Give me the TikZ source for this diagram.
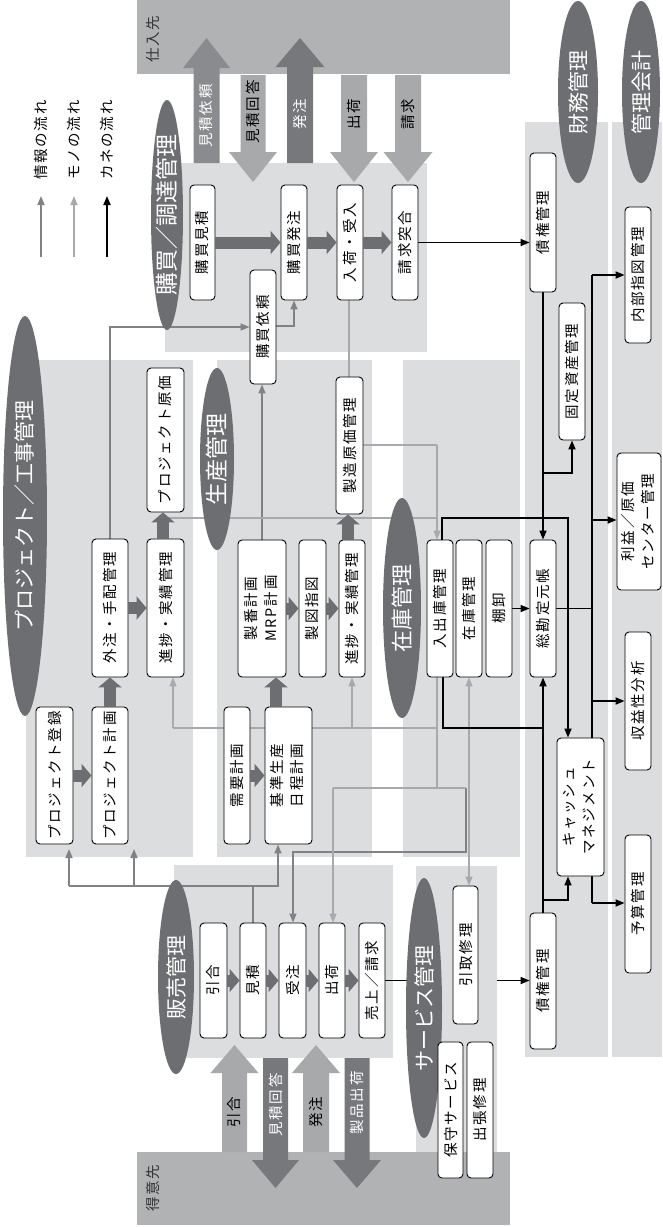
\documentclass[tikz,border=0pt]{standalone}
\usepackage{fontspec}
\usepackage{graphicx}
\setmainfont{Noto Sans CJK JP}
\newfontfamily\jpsp{Noto Sans CJK JP}[LetterSpace=12]
\usetikzlibrary{arrows.meta,shapes.geometric}
\definecolor{panel}{HTML}{DCDDDF}
\definecolor{bar}{HTML}{B1B2B4}
\definecolor{dark}{HTML}{6D6E71}
\definecolor{info}{HTML}{808285}
\definecolor{mono}{HTML}{A7A9AC}
\definecolor{bigdark}{HTML}{77787B}
\definecolor{bigmed}{HTML}{8A8B8E}
\definecolor{biglight}{HTML}{A8A9AB}
\pgfdeclarelayer{back}
\pgfdeclarelayer{ktwo}
\pgfdeclarelayer{svc}
\pgfdeclarelayer{big}
\pgfdeclarelayer{conn}
\pgfdeclarelayer{ellL}
\pgfdeclarelayer{front}
\pgfsetlayers{back,ktwo,svc,big,conn,ellL,main,front}
\newcommand{\rottext}[1]{\rotatebox{90}{#1}}
\newcommand{\rotlines}[1]{\rotatebox{90}{\begin{tabular}{@{}c@{}}#1\end{tabular}}}
\newcommand{\bx}[6]{\node[box, minimum width={(#4)-(#2)}, minimum height={(#5)-(#3)}] (#1) at ({((#2)+(#4))/2},{((#3)+(#5))/2}) {#6};}
\newcommand{\el}[7]{\node[ell, font=\fontsize{#7}{24}\selectfont, minimum width={2*(#4)}, minimum height={2*(#5)}] (#1) at (#2,#3) {\rottext{#6}};}
\newcommand{\bigarrow}[7]{\fill[#1] ({#2-#6},#3) -- ({#2-#6},#4) -- ({#2-#7},#4) -- (#2,#5) -- ({#2+#7},#4) -- ({#2+#6},#4) -- ({#2+#6},#3) -- cycle;}
\begin{document}
\begin{tikzpicture}[x=1pt,y=-1pt,
  box/.style={draw=black, line width=0.9pt, rounded corners=4pt, fill=white, inner sep=0pt, font=\jpsp\fontsize{14.5}{20}\selectfont},
  ell/.style={ellipse, fill=dark, inner sep=0pt, text=white},
  joho/.style={draw=info, line width=1.6pt},
  mono/.style={draw=mono, line width=1.6pt},
  kane/.style={draw=black, line width=1.7pt},
  tip/.style={-{Triangle[length=9pt,width=7pt]}},
  fat/.style={draw=dark, line width=12pt, -{Triangle[length=10pt,width=23pt]}},
  lbl/.style={inner sep=0pt, font=\jpsp\fontsize{14.5}{16}\selectfont},
]
\useasboundingbox (0,0) rectangle (662,1227);
\begin{pgfonlayer}{back}
\fill[white] (0,0) rectangle (662,1227);
\fill[bar] (137,0) rectangle (510,74);
\fill[bar] (137,1152) rectangle (510,1225);
\fill[panel] (165,163) rectangle (427,352);
\fill[panel] (26,360) rectangle (193,857);
\fill[panel] (217,360) rectangle (372,857);
\fill[panel] (403,360) rectangle (520,857);
\fill[panel] (174,865) rectangle (393,1058);
\fill[panel] (525,122) rectangle (608,1057);
\fill[panel] (612,122) rectangle (662,1057);
\end{pgfonlayer}
\begin{pgfonlayer}{svc}
\fill[panel] (416,866) rectangle (497,1152);
\end{pgfonlayer}
% ---------------- boxes
\bx{kobaimitsumori}{190}{185}{215}{300}{\rottext{購買見積}}
\bx{kobaihachu}{281}{185}{307}{300}{\rottext{購買発注}}
\bx{nyuka}{337}{185}{363}{300}{\rottext{入荷・受入}}
\bx{seikyu}{392}{185}{418}{300}{\rottext{請求突合}}
\bx{kobaiirai}{250}{270}{276}{384}{\rottext{購買依頼}}
\bx{pjgenka}{147}{368}{184}{512}{\rottext{プロジェクト原価}}
\bx{gaichu}{92}{539}{128}{677}{\rottext{外注・手配管理}}
\bx{pjshinchoku}{147}{539}{184}{677}{\rottext{進捗・実績管理}}
\bx{pjtoroku}{36}{707}{73}{844}{\rottext{プロジェクト登録}}
\bx{pjkeikaku}{92}{707}{128}{844}{\rottext{プロジェクト計画}}
\bx{seiban}{238}{540}{286}{677}{\rotlines{製番計画\\MRP計画}}
\bx{seizu}{299}{540}{326}{677}{\rottext{製図指図}}
\bx{mfgshinchoku}{339}{540}{365}{677}{\rottext{進捗・実績管理}}
\bx{seizogenka}{336}{377}{363}{514}{\rottext{製造原価管理}}
\bx{juyo}{224}{707}{250}{844}{\rottext{需要計画}}
\bx{kijun}{265}{707}{312}{844}{\rotlines{基準生産\\日程計画}}
\bx{nyushukko}{427}{540}{453}{677}{\rottext{入出庫管理}}
\bx{zaiko}{456}{540}{482}{677}{\rottext{在庫管理}}
\bx{tanaoroshi}{486}{540}{512}{677}{\rottext{棚卸}}
\bx{saimu}{530}{153}{556}{292}{\rottext{債権管理}}
\bx{kotei}{559}{303}{585}{440}{\rottext{固定資産管理}}
\bx{sokanjo}{530}{540}{556}{677}{\rottext{総勘定元帳}}
\bx{cash}{557}{738}{604}{876}{\rotlines{キャッシュ\\マネジメント}}
\bx{saiken}{530}{913}{556}{1049}{\rottext{債権管理}}
\bx{naibu}{625}{207}{651}{343}{\rottext{内部指図管理}}
\bx{rieki}{617}{453}{661}{590}{\rotlines{利益／原価\\センター管理}}
\bx{shueki}{625}{632}{651}{770}{\rottext{収益性分析}}
\bx{yosan}{625}{835}{651}{973}{\rottext{予算管理}}
\bx{hikiai}{200}{923}{227}{1038}{\rottext{引合}}
\bx{mitsumori}{240}{923}{266}{1038}{\rottext{見積}}
\bx{juchu}{279}{923}{306}{1038}{\rottext{受注}}
\bx{shukka}{319}{923}{345}{1038}{\rottext{出荷}}
\bx{uriage}{359}{923}{385}{1038}{\rottext{売上／請求}}
\bx{hikitori}{453}{886}{478}{1024}{\rottext{引取修理}}
\bx{hoshu}{438}{1042}{463}{1178}{\rottext{保守サービス}}
\bx{shutcho}{467}{1042}{493}{1178}{\rottext{出張修理}}
% ---------------- K2 behind service panel
\begin{pgfonlayer}{ktwo}
\draw[kane,tip] (uriage.east) -- (saiken.west |- uriage.east);
\end{pgfonlayer}
% ---------------- big arrows
\begin{pgfonlayer}{big}
\bigarrow{bigmed}{206.5}{163}{68}{38}{13}{23.5}
\bigarrow{biglight}{253}{75}{152}{182}{12.5}{24}
\bigarrow{bigdark}{300}{163}{67}{38}{13}{24.5}
\bigarrow{biglight}{354}{75}{152}{182}{13}{24}
\bigarrow{biglight}{408}{75}{152}{182}{13}{24.5}
\bigarrow{biglight}{234.5}{1152}{1073}{1045}{12.5}{24}
\bigarrow{bigdark}{275.5}{1058}{1160}{1188}{12.5}{23.5}
\bigarrow{biglight}{316}{1152}{1073}{1045}{13}{24}
\bigarrow{bigdark}{357}{1058}{1160}{1188}{12.5}{24}
\node[lbl,text=white] (t1) at (206.5,116) {\rottext{見積依頼}};
\node[lbl] (t2) at (253,112) {\rottext{見積回答}};
\node[lbl,text=white] (t3) at (300,114) {\rottext{発注}};
\node[lbl] (t4) at (354,114) {\rottext{出荷}};
\node[lbl] (t5) at (408,114) {\rottext{請求}};
\node[lbl] (b1) at (234.5,1112) {\rottext{引合}};
\node[lbl,text=white] (b2) at (275.5,1105) {\rottext{見積回答}};
\node[lbl] (b3) at (316,1112) {\rottext{発注}};
\node[lbl,text=white] (b4) at (357,1103) {\rottext{製品出荷}};
\node[lbl,text=black!80] (sup) at (153,39) {\rottext{仕入先}};
\node[lbl,text=black!80] (cus) at (153,1188) {\rottext{得意先}};
\end{pgfonlayer}
% ---------------- legend
\node[lbl] (lt1) at (41,140) {\rottext{情報の流れ}};
\node[lbl] (lt2) at (74,140) {\rottext{モノの流れ}};
\node[lbl] (lt3) at (107,140) {\rottext{カネの流れ}};
\coordinate (la1) at (41,257); \coordinate (lb1) at (41,196);
\coordinate (la2) at (74,257); \coordinate (lb2) at (74,196);
\coordinate (la3) at (107,257); \coordinate (lb3) at (107,196);
\draw[joho,tip] (la1) -- (lb1);
\draw[mono,tip] (la2) -- (lb2);
\draw[kane,tip] (la3) -- (lb3);
% ---------------- connectors
\begin{pgfonlayer}{conn}
% info
\draw[joho,tip] (gaichu.north) -- (gaichu.north |- 0,327) -- (kobaiirai.west |- 0,327);
\draw[joho,tip] (kobaiirai.east |- 0,326) -- (294,326) -- (kobaihachu.south -| 294,0);
\draw[joho,tip] (seiban.north -| 262,0) -- (kobaiirai.south -| 262,0);
\draw[joho] (mitsumori.north -| 253,0) -- (253,886) -- (69,886);
\draw[joho,tip] (69,886) -- (69,849);
\draw[joho,tip] (134,886) -- (134,849);
\draw[joho,tip] (253,886) -- (278,886) -- (kijun.south -| 278,0);
\draw[joho,tip] (466,788) -- (466,852) -- (293,852) -- (juchu.north -| 293,0);
% mono
\draw[mono] (nyuka.south -| 349,0) -- (349,445) -- (437,445);
\draw[mono,tip] (437,445) -- (nyushukko.north -| 437,0);
\draw[mono] (pjshinchoku.north -| 168,0) -- (168,518) -- (437,518);
\draw[mono] (nyushukko.south -| 437,0) -- (437,788) -- (333,788);
\draw[mono,tip] (333,788) -- (shukka.north -| 333,0);
\draw[mono] (437,788) -- (466,788);
\draw[mono] (437,728) -- (173,728);
\draw[mono,tip] (173,728) -- (pjshinchoku.south -| 173,0);
\draw[mono,tip] (352,728) -- (mfgshinchoku.south -| 352,0);
\draw[mono,{Triangle[length=9pt,width=7pt]}-{Triangle[length=9pt,width=7pt]}] (zaiko.south -| 469,0) -- (hikitori.north -| 469,0);
% kane
\draw[kane,tip] (seikyu.east) -- (saimu.west |- seikyu.east);
\draw[kane,tip] (saimu.south) -- (sokanjo.north -| saimu.south);
\draw[kane,tip] (543,473) -- (572,473) -- (kotei.south -| 572,0);
\draw[kane,tip] (saiken.north) -- (sokanjo.south -| saiken.north);
\draw[kane,tip] (543,900) -- (568,900) -- (cash.south -| 568,0);
\draw[kane,tip] (nyushukko.north -| 442,0) -- (442,518) -- (568,518) -- (cash.north -| 568,0);
\draw[kane] (nyushukko.south -| 443,0) -- (443,728) -- (543,728);
\draw[kane,tip] (tanaoroshi.east) -- (sokanjo.west);
\draw[kane] (sokanjo.east) -- (sokanjo.east -| 592,0);
\draw[kane] (592,275) -- (592,903);
\draw[kane,tip] (592,275) -- (naibu.west |- 0,275);
\draw[kane,tip] (592,520) -- (rieki.west |- 0,520);
\draw[kane,tip] (592,701) -- (shueki.west);
\draw[kane,tip] (592,903) -- (yosan.west |- 0,903);
\end{pgfonlayer}
% ---------------- ellipses
\begin{pgfonlayer}{ellL}
\el{e1}{167}{215}{16}{115}{購買／調達管理}{23}
\el{e2}{578}{92}{20}{91}{財務管理}{21}
\el{e3}{641}{92}{19}{91}{管理会計}{21}
\el{e4}{25}{516}{22}{200}{プロジェクト／工事管理}{21}
\el{e5}{217}{459}{17}{91}{生産管理}{23}
\el{e6}{402}{608}{19}{110}{在庫管理}{22}
\el{e7}{176}{977}{18}{97}{販売管理}{21}
\el{e8}{424}{1008}{18}{130}{サービス管理}{21}
\end{pgfonlayer}
% ---------------- fat arrows
\begin{pgfonlayer}{front}
\draw[fat] (kobaimitsumori.east) -- (kobaihachu.west);
\draw[fat] (kobaihachu.east) -- (nyuka.west);
\draw[fat] (nyuka.east) -- (seikyu.west);
\draw[fat] (pjtoroku.east) -- (pjkeikaku.west);
\draw[fat] (pjkeikaku.north) -- (gaichu.south);
\draw[fat] (gaichu.east) -- (pjshinchoku.west);
\draw[fat] (pjshinchoku.north -| 163,0) -- (pjgenka.south -| 163,0);
\draw[fat] (juyo.east) -- (kijun.west);
\draw[fat] (kijun.north -| 276,0) -- (seiban.south -| 276,0);
\draw[fat] (seiban.east) -- (seizu.west);
\draw[fat] (seizu.east) -- (mfgshinchoku.west);
\draw[fat] (mfgshinchoku.north -| 348,0) -- (seizogenka.south -| 348,0);
\draw[fat] (hikiai.east) -- (mitsumori.west);
\draw[fat] (mitsumori.east) -- (juchu.west);
\draw[fat] (juchu.east) -- (shukka.west);
\draw[fat] (shukka.east) -- (uriage.west);
\end{pgfonlayer}
\end{tikzpicture}
\end{document}
